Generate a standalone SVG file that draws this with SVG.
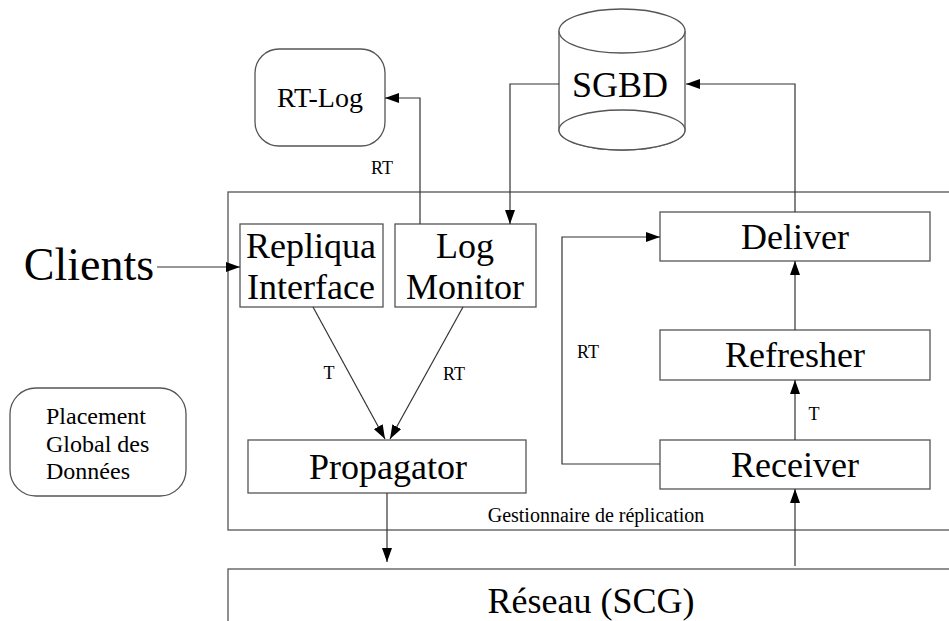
<svg xmlns="http://www.w3.org/2000/svg" width="949" height="621" viewBox="0 0 949 621" font-family="'Liberation Serif', 'Times New Roman', Times, serif">
<style>
.box{fill:#fff;stroke:#555;stroke-width:1.3}
.con{fill:none;stroke:#333;stroke-width:1.2}
text{font-family:'Liberation Serif','Times New Roman',Times,serif;fill:#000;text-anchor:middle}
.big{font-size:36px}
.mid{font-size:28px}
.sm{font-size:18px}
.pl{font-size:24px;text-anchor:start}
</style>
<defs>
<marker id="ah" viewBox="0 0 14 10" refX="14" refY="5" markerWidth="14" markerHeight="10" markerUnits="userSpaceOnUse" orient="auto">
<path d="M0,0 L14,5 L0,10 Z" fill="#000"/>
</marker>
</defs>
<rect width="949" height="621" fill="#fff"/>

<g id="gestionnaire">
<rect class="box" x="228" y="192" width="740" height="338"/>
<text x="596" y="522" font-size="20">Gestionnaire de réplication</text>
</g>

<g id="reseau">
<rect class="box" x="228" y="569" width="740" height="80"/>
<text class="big" x="591" y="613">Réseau (SCG)</text>
</g>

<g id="rtlog">
<rect class="box" x="255" y="49" width="130" height="97" rx="24" ry="24"/>
<text class="mid" x="320" y="107">RT-Log</text>
</g>

<g id="sgbd">
<path class="box" d="M559,31 L559,130 A63,20 0 0 0 685,130 L685,31"/>
<ellipse class="box" cx="622" cy="31" rx="63" ry="22"/>
<ellipse class="box" cx="622" cy="130" rx="63" ry="20"/>
<text class="big" x="620" y="97">SGBD</text>
</g>

<g id="clients">
<text x="89" y="280" font-size="46">Clients</text>
</g>

<g id="repliqua">
<rect class="box" x="240" y="224" width="143" height="83"/>
<text class="big" x="311" y="258">Repliqua</text>
<text class="big" x="311" y="299">Interface</text>
</g>

<g id="logmonitor">
<rect class="box" x="395" y="224" width="141" height="83"/>
<text class="big" x="465" y="258">Log</text>
<text class="big" x="465" y="299">Monitor</text>
</g>

<g id="propagator">
<rect class="box" x="248" y="440" width="278" height="53"/>
<text class="big" x="388" y="479">Propagator</text>
</g>

<g id="deliver">
<rect class="box" x="660" y="212" width="270" height="49"/>
<text class="big" x="795" y="249">Deliver</text>
</g>

<g id="refresher">
<rect class="box" x="660" y="330" width="270" height="50"/>
<text class="big" x="795" y="367">Refresher</text>
</g>

<g id="receiver">
<rect class="box" x="660" y="440" width="270" height="49"/>
<text class="big" x="795" y="477">Receiver</text>
</g>

<g id="placement">
<rect class="box" x="10" y="388" width="176" height="108" rx="26" ry="26"/>
<text class="pl" x="46" y="424">Placement</text>
<text class="pl" x="46" y="452">Global des</text>
<text class="pl" x="46" y="479">Données</text>
</g>

<g id="connectors">
<path class="con" d="M157,267 L240,267" marker-end="url(#ah)"/>
<path class="con" d="M420,224 L420,98 L385,98" marker-end="url(#ah)"/>
<path class="con" d="M559,84 L510,84 L510,224" marker-end="url(#ah)"/>
<path class="con" d="M795,212 L795,84 L686,84" marker-end="url(#ah)"/>
<path class="con" d="M313,307 L385,439" marker-end="url(#ah)"/>
<path class="con" d="M463,307 L390,439" marker-end="url(#ah)"/>
<path class="con" d="M387,493 L387,562" marker-end="url(#ah)"/>
<path class="con" d="M795,330 L795,261" marker-end="url(#ah)"/>
<path class="con" d="M795,440 L795,380" marker-end="url(#ah)"/>
<path class="con" d="M795,566 L795,489" marker-end="url(#ah)"/>
<path class="con" d="M660,464 L562,464 L562,237 L660,237" marker-end="url(#ah)"/>
<text class="sm" x="382" y="174">RT</text>
<text class="sm" x="329" y="379">T</text>
<text class="sm" x="454" y="380">RT</text>
<text class="sm" x="588" y="358">RT</text>
<text class="sm" x="814" y="420">T</text>
</g>
</svg>
